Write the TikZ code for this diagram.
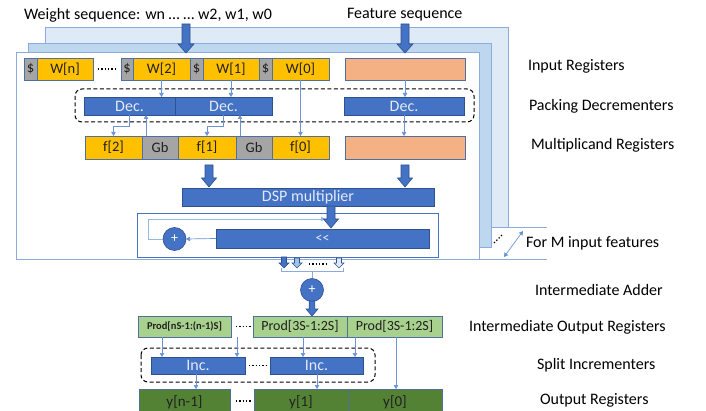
\documentclass[tikz,border=0pt]{standalone}
\usepackage{fontspec}
\setmainfont{Carlito}
\usetikzlibrary{arrows.meta,calc}
\definecolor{yreg}{HTML}{FFC000}
\definecolor{greg}{HTML}{A5A5A5}
\definecolor{salmon}{HTML}{F4B183}
\definecolor{bluebox}{HTML}{4472C4}
\definecolor{bluebord}{HTML}{2F528F}
\definecolor{lgreen}{HTML}{A9D18E}
\definecolor{dgreen}{HTML}{548235}
\definecolor{dgreenbord}{HTML}{385723}
\definecolor{pback}{HTML}{DEEBF7}
\definecolor{pmid}{HTML}{BDD7EE}
\definecolor{pline}{HTML}{8FAADC}
\definecolor{regline}{HTML}{4F6FA0}
\definecolor{thinc}{HTML}{6A93D6}
\definecolor{lightarr}{HTML}{9DC3E6}
\definecolor{txtdark}{HTML}{202020}
\definecolor{txtlight}{HTML}{E4EAF6}
\newcommand\rbox[7]{%
  \node[#6, minimum width={(#4-#2)*1pt}, minimum height={(#5-#3)*1pt}] (#1) at ({(#2+#4)/2},{(#3+#5)/2}) {#7};}
% block arrow: from, to, fill, shaft half, head half, head length
\newcommand\barrow[6]{%
  \draw[blockline, fill=#3] let \p1=(#1), \p2=(#2) in
   (\x2,\y2) -- (\x2-#5,\y2+#6) -- (\x2-#4,\y2+#6) -- (\x1-#4,\y1) -- (\x1+#4,\y1)
   -- (\x2+#4,\y2+#6) -- (\x2+#5,\y2+#6) -- cycle;}
\begin{document}
\begin{tikzpicture}[x=1pt,y=-1pt,
  base/.style={inner sep=0pt, outer sep=0pt},
  reg/.style={base, draw=regline, line width=0.8pt, font=\fontsize{14.5}{17}\selectfont, text=txtdark},
  bbox/.style={base, draw=bluebord, line width=0.6pt, fill=bluebox, font=\fontsize{16}{18}\selectfont, text=txtlight},
  prodbox/.style={base, draw=regline, line width=0.8pt, fill=lgreen, font=\fontsize{14}{17}\selectfont, text=txtdark},
  outbox/.style={base, draw=regline, line width=0.8pt, fill=dgreen, font=\fontsize{15}{17}\selectfont, text=txtdark},
  lbl/.style={base, anchor=west, font=\fontsize{16}{19}\selectfont, text=black},
  thinarr/.style={draw=thinc, line width=0.7pt, -{Triangle[length=4pt,width=4.5pt]}},
  thinln/.style={draw=thinc, line width=0.7pt},
  dashbox/.style={draw=black, line width=1pt, dash pattern=on 4pt off 2.5pt, rounded corners=7pt},
  blockline/.style={draw=bluebord, line width=0.6pt},
  dotline/.style={draw=black, line width=1.4pt, dash pattern=on 1.3pt off 2pt},
  panel/.style={draw=pline, line width=1pt},
  circ/.style={base, circle, draw=bluebord, line width=0.6pt, fill=bluebox, minimum size=23pt, text=white, font=\fontsize{14}{15}\selectfont}
]
\useasboundingbox (0,0) rectangle (706,411);
\clip (0,0) rectangle (706,411);
% panels
\draw[panel, fill=pback] (45,28) rectangle (508,228);
\draw[panel, fill=pmid] (28,44) rectangle (491,248);
\draw[panel, fill=white] (16,53) rectangle (479,260);
\coordinate (l1a) at (491,228); \coordinate (l1b) at (547,228);
\coordinate (l2a) at (479,260); \coordinate (l2b) at (547,260);
\draw[panel] (l1a) -- (l1b);
\draw[panel] (l2a) -- (l2b);
\coordinate (da) at (494,243); \coordinate (db) at (503,234);
\draw[dotline, line width=1.2pt] (da) -- (db);
\coordinate (ma) at (504,257); \coordinate (mb) at (523,231);
\draw[draw=thinc, line width=0.7pt, {Triangle[length=4pt,width=4.5pt]}-{Triangle[length=4pt,width=4.5pt]}] (ma) -- (mb);

% top texts
\node[lbl] (wseq) at (24,15) {Weight sequence: wn … … w2, w1, w0};
\node[lbl] (fseq) at (347,15) {Feature sequence};
\coordinate (ta1) at (186,24); \coordinate (ta2) at (186,53);
\coordinate (tb1) at (405,24); \coordinate (tb2) at (405,53);
\barrow{ta1}{ta2}{bluebox}{4pt}{8pt}{9pt}
\barrow{tb1}{tb2}{bluebox}{4pt}{8pt}{9pt}

% input registers
\rbox{sn}{24}{58}{37}{80}{reg,fill=greg}{\$}
\rbox{wn}{37}{58}{93}{80}{reg,fill=yreg}{W[n]}
\rbox{s2}{121}{58}{133}{80}{reg,fill=greg}{\$}
\rbox{w2}{133}{58}{190}{80}{reg,fill=yreg}{W[2]}
\rbox{s1}{190}{58}{203}{80}{reg,fill=greg}{\$}
\rbox{w1}{203}{58}{259}{80}{reg,fill=yreg}{W[1]}
\rbox{s0}{259}{58}{272}{80}{reg,fill=greg}{\$}
\rbox{w0}{272}{58}{329}{80}{reg,fill=yreg}{W[0]}
\rbox{fin}{345}{58}{465}{80}{reg,fill=salmon}{}
\draw[dotline] ($(wn.east)+(5,0)$) -- ($(s2.west)+(-5,0)$);

% packing decrementers
\draw[dashbox] (75,89) rectangle (474,122);
\rbox{dec1}{84}{97}{175}{115}{bbox}{Dec.}
\rbox{dec2}{175}{97}{272}{115}{bbox}{Dec.}
\rbox{dec3}{344}{97}{464}{115}{bbox}{Dec.}

% multiplicand registers
\rbox{f2}{85}{136}{142}{159}{reg,fill=yreg}{f[2]}
\rbox{gb1}{142}{136}{178}{159}{reg,fill=greg}{Gb}
\rbox{f1}{178}{136}{236}{159}{reg,fill=yreg}{f[1]}
\rbox{gb2}{236}{136}{272}{159}{reg,fill=greg}{Gb}
\rbox{f0}{272}{136}{329}{159}{reg,fill=yreg}{f[0]}
\rbox{fmul}{345}{136}{465}{159}{reg,fill=salmon}{}

\draw[thinarr] (w2.south) -- (w2.south |- dec1.north);
\draw[thinarr] (w1.south) -- (w1.south |- dec2.north);
\draw[thinarr] (w0.south) -- (f0.north);
\draw[thinarr] (fin.south) -- (fin.south |- dec3.north);
\draw[thinarr] (dec3.south) -- (dec3.south |- fmul.north);
\draw[thinarr] (dec1.south) -- ($(dec1.south)+(0,11)$) -| (f2.north);
\draw[thinarr] (dec2.south) -- ($(dec2.south)+(0,11)$) -| (f1.north);
\coordinate (g1) at ($(gb1.north west)+(4,0)$);
\coordinate (g2) at ($(gb2.north west)+(4,0)$);
\draw[thinarr] (g1) -- (g1 |- dec1.south);
\draw[thinarr] (g2) -- (g2 |- dec2.south);

% DSP
\rbox{dsp}{182}{188}{434}{206}{bbox}{DSP multiplier}
\coordinate (fa1) at (209,165); \coordinate (fa2) at (209,187);
\coordinate (fb1) at (405,165); \coordinate (fb2) at (405,187);
\barrow{fa1}{fa2}{bluebox}{4pt}{7.5pt}{9pt}
\barrow{fb1}{fb2}{bluebox}{4pt}{7.5pt}{9pt}

% accumulator
\rbox{acc}{137}{213}{438}{257}{base,draw=bluebox,line width=0.8pt,fill=white}{}
\rbox{shl}{216}{229}{429}{248}{bbox,font=\fontsize{14}{16}\selectfont}{{<}{<}}
\node[circ] (plus1) at (174.5,239) {+};
\draw[thinarr] (shl.west) -- (plus1.east);
\coordinate (fbend) at (325,219);
\draw[thinarr, draw=lightarr!80!thinc] (plus1.west) -- ++(-15,0) |- (fbend);
\coordinate (sa1) at (331,206); \coordinate (sa2) at (331,228);
\barrow{sa1}{sa2}{bluebox}{4pt}{7.5pt}{9pt}

% partial outputs
\coordinate (o1a) at (284,257); \coordinate (o1b) at (284,268);
\coordinate (o2a) at (297,258); \coordinate (o2b) at (297,268);
\coordinate (o3a) at (339,258); \coordinate (o3b) at (339,268);
\barrow{o1a}{o1b}{bluebox}{2.5pt}{5pt}{5pt}
\barrow{o2a}{o2b}{lightarr}{2.5pt}{5pt}{5pt}
\barrow{o3a}{o3b}{pback}{2.5pt}{5pt}{5pt}
\draw[dotline] (309,264) -- (328,264);
\draw[panel] (281,268) -- (281,272) -- (343,272) -- (343,268);
\node[circ] (plus2) at (312,290) {+};
\coordinate (br) at (312,272);
\draw[panel] (br) -- (plus2.north);
\coordinate (pa1) at (312,301); \coordinate (pa2) at (312,316);
\barrow{pa1}{pa2}{bluebox}{2.8pt}{6pt}{7pt}

% intermediate output registers
\rbox{p1}{138}{316}{231}{337}{prodbox,font=\bfseries\fontsize{10.5}{12}\selectfont}{Prod[nS-1:(n-1)S]}
\rbox{p2}{253}{316}{347}{337}{prodbox}{Prod[3S-1:2S]}
\rbox{p3}{347}{316}{442}{337}{prodbox}{Prod[3S-1:2S]}
\draw[dotline] ($(p1.east)+(5,0)$) -- ($(p2.west)+(-2,0)$);

% split incrementers
\draw[dashbox] (141,348) rectangle (375,382);
\rbox{inc1}{151}{357}{245}{374}{bbox}{Inc.}
\rbox{inc2}{270}{357}{363}{374}{bbox}{Inc.}
\draw[dotline] ($(inc1.east)+(4,0)$) -- ($(inc2.west)+(-3,0)$);

% output registers
\rbox{yn}{139}{389}{230}{416}{outbox}{y[n-1]}
\rbox{y1}{254}{389}{348}{416}{outbox}{y[1]}
\rbox{y0}{348}{389}{442}{416}{outbox}{y[0]}
\coordinate (ydots) at (236,401);
\draw[dotline] (ydots) -- ($(y1.west |- ydots)+(-2,0)$);

% arrows in lower part
\coordinate (q1) at (162,337); \coordinate (q2) at (237,337);
\coordinate (q3) at (303,337); \coordinate (q4) at (355,337);
\coordinate (q5) at (396,337);
\draw[thinarr] (q1) -- (q1 |- inc1.north);
\draw[thinarr] (q2) -- (q2 |- inc1.north);
\draw[thinarr] (q3) -- (q3 |- inc2.north);
\draw[thinarr] (q4) -- (q4 |- inc2.north);
\draw[thinarr] (q5) -- (q5 |- y0.north);
\coordinate (r1) at (196,374); \coordinate (r2) at (317,374);
\draw[thinarr] (r1) -- (r1 |- yn.north);
\draw[thinarr] (r2) -- (r2 |- y1.north);

% right labels
\node[lbl] (lab1) at (528,66) {Input Registers};
\node[lbl] (lab2) at (529,106) {Packing Decrementers};
\node[lbl] (lab3) at (531,145) {Multiplicand Registers};
\node[lbl] (lab4) at (526,243) {For M input features};
\node[lbl] (lab5) at (535,290) {Intermediate Adder};
\node[lbl] (lab6) at (469,327) {Intermediate Output Registers};
\node[lbl] (lab7) at (537,365) {Split Incrementers};
\node[lbl] (lab8) at (540,400) {Output Registers};
\end{tikzpicture}
\end{document}
